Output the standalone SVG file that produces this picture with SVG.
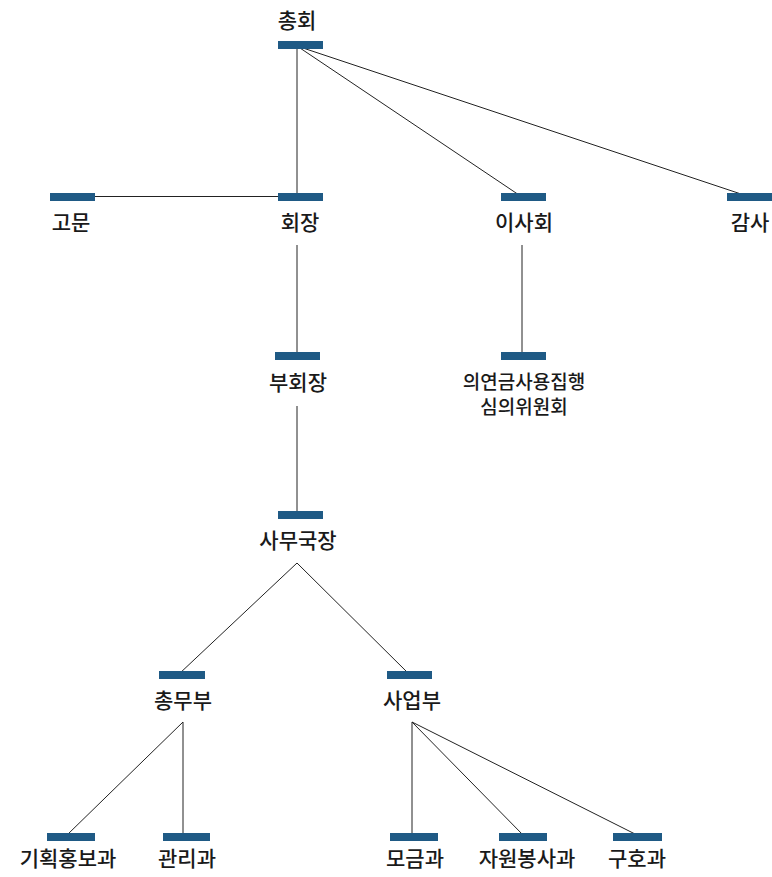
<svg xmlns="http://www.w3.org/2000/svg" width="772" height="877" viewBox="0 0 772 877">
<style>
.bar{fill:#1f5a85}
.lbl{font-family:"Noto Sans CJK KR","Noto Sans",sans-serif;font-size:21px;fill:#1a1a1a;text-anchor:middle;font-weight:500}
.sm{font-size:19px}
.ln{stroke:#222;stroke-width:1;fill:none}
</style>
<rect width="772" height="877" fill="#fff"/>
<g id="connectors">
<line class="ln" x1="297" y1="46" x2="297" y2="197"/>
<line class="ln" x1="297" y1="46" x2="522" y2="197"/>
<line class="ln" x1="297" y1="46" x2="750" y2="197"/>
<line class="ln" x1="60" y1="196.5" x2="297" y2="196.5"/>
<line class="ln" x1="297" y1="245" x2="297" y2="357"/>
<line class="ln" x1="297" y1="406" x2="297" y2="514"/>
<line class="ln" x1="522" y1="245" x2="522" y2="358"/>
<line class="ln" x1="297" y1="563" x2="179" y2="674"/>
<line class="ln" x1="297" y1="563" x2="409" y2="674"/>
<line class="ln" x1="183" y1="722" x2="67" y2="835"/>
<line class="ln" x1="183" y1="722" x2="183" y2="840"/>
<line class="ln" x1="412" y1="722" x2="412" y2="840"/>
<line class="ln" x1="412" y1="722" x2="524" y2="836"/>
<line class="ln" x1="412" y1="722" x2="639" y2="836"/>
</g>
<g id="n-chonghoe"><rect class="bar" x="278" y="41" width="45" height="8"/><text class="lbl" x="297" y="28">총회</text></g>
<g id="n-gomun"><rect class="bar" x="50" y="193" width="45" height="8"/><text class="lbl" x="71" y="230">고문</text></g>
<g id="n-hoejang"><rect class="bar" x="278" y="193" width="45" height="8"/><text class="lbl" x="300" y="230">회장</text></g>
<g id="n-isahoe"><rect class="bar" x="501" y="193" width="45" height="8"/><text class="lbl" x="524" y="230">이사회</text></g>
<g id="n-gamsa"><rect class="bar" x="727" y="193" width="45" height="8"/><text class="lbl" x="750" y="230">감사</text></g>
<g id="n-buhoejang"><rect class="bar" x="275" y="352" width="45" height="8"/><text class="lbl" x="298" y="390">부회장</text></g>
<g id="n-uiyeongeum"><rect class="bar" x="501" y="352" width="45" height="8"/><text class="lbl sm" x="524" y="389">의연금사용집행</text><text class="lbl sm" x="524" y="414">심의위원회</text></g>
<g id="n-samugukjang"><rect class="bar" x="278" y="511" width="45" height="8"/><text class="lbl" x="298" y="548">사무국장</text></g>
<g id="n-chongmubu"><rect class="bar" x="159" y="671" width="46" height="8"/><text class="lbl" x="183" y="708">총무부</text></g>
<g id="n-saeopbu"><rect class="bar" x="387" y="671" width="45" height="8"/><text class="lbl" x="412" y="708">사업부</text></g>
<g id="n-gihoek"><rect class="bar" x="47" y="833" width="48" height="8"/><text class="lbl" x="68" y="866">기획홍보과</text></g>
<g id="n-gwanri"><rect class="bar" x="163" y="833" width="47" height="8"/><text class="lbl" x="187" y="866">관리과</text></g>
<g id="n-mogeum"><rect class="bar" x="390" y="833" width="48" height="8"/><text class="lbl" x="415" y="866">모금과</text></g>
<g id="n-jawon"><rect class="bar" x="499" y="833" width="48" height="8"/><text class="lbl" x="527" y="866">자원봉사과</text></g>
<g id="n-guho"><rect class="bar" x="613" y="833" width="49" height="8"/><text class="lbl" x="637" y="866">구호과</text></g>
</svg>
